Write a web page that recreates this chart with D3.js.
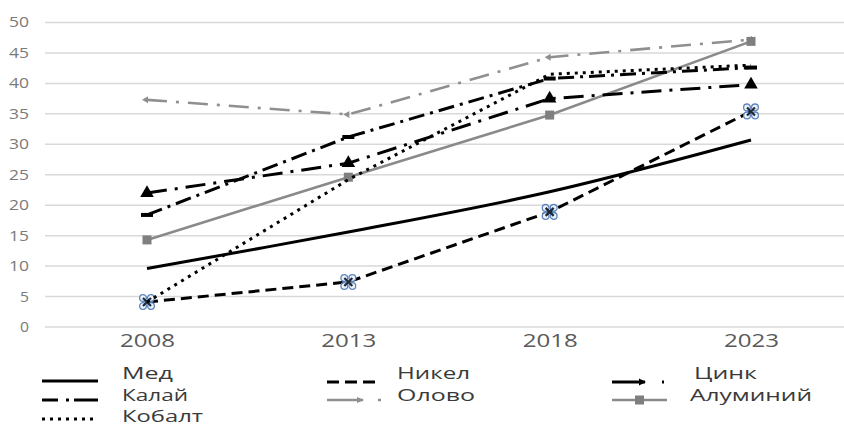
<!DOCTYPE html>
<html><head><meta charset="utf-8">
<script src="https://cdn.jsdelivr.net/npm/d3@7"></script>
<style>
html,body{margin:0;padding:0;background:#fff;}
svg{display:block;font-family:"Open Sans",sans-serif;}
</style></head>
<body><svg id="c" width="844" height="426"></svg>
<script>
const years = ["2008", "2013", "2018", "2023"];
const med = [9.6, 15.6, 22.2, 30.7];
const nikel = [4.1, 7.4, 18.9, 35.4];
const tsink = [22.0, 26.9, 37.5, 39.8];
const kalai = [18.4, 31.2, 40.8, 42.6];
const olovo = [37.3, 34.9, 44.3, 47.2];
const aluminii = [14.3, 24.6, 34.8, 46.9];
const kobalt = [4.1, 24.2, 41.5, 43.0];
const yTicks = [0, 5, 10, 15, 20, 25, 30, 35, 40, 45, 50];
const seriesNames = ["Мед", "Никел", "Цинк", "Калай", "Олово", "Алуминий", "Кобалт"];

const svg = d3.select("#c");
const x = d3.scalePoint().domain(years).range([147, 751]);
const y = d3.scaleLinear().domain([0, 50]).range([327, 22.5]);

// gridlines
svg.append("g").selectAll("line").data(yTicks).join("line")
  .attr("x1", 45).attr("x2", 844)
  .attr("y1", d => y(d)).attr("y2", d => y(d))
  .attr("stroke", "#d9d9d9").attr("stroke-width", 1.5);

// y axis labels
const yAxis = d3.axisLeft(y).tickValues(yTicks).tickSize(0).tickPadding(0);
const gy = svg.append("g").attr("transform", "translate(29,0)").call(yAxis);
gy.select(".domain").remove();
gy.selectAll("text").attr("font-size", 14).attr("fill", "#7a7a7a")
  .attr("font-family", "Open Sans")
  .attr("textLength", d => d >= 10 ? 20 : 9).attr("lengthAdjust", "spacingAndGlyphs");

// x axis labels
const xAxis = d3.axisBottom(x).tickSize(0).tickPadding(0);
const gx = svg.append("g").attr("transform", "translate(0,329)").call(xAxis);
gx.select(".domain").remove();
gx.selectAll("text").attr("font-size", 18).attr("fill", "#595959")
  .attr("font-family", "Open Sans").attr("dy", "1.0em")
  .attr("textLength", 55).attr("lengthAdjust", "spacingAndGlyphs");

const series = [
  {name: "Олово", vals: olovo, color: "#8f8f8f", w: 2.6, dash: "20,9,3,9", curve: d3.curveLinear, marker: "arrow"},
  {name: "Алуминий", vals: aluminii, color: "#8a8a8a", w: 2.6, dash: null, curve: d3.curveLinear, marker: "square"},
  {name: "Мед", vals: med, color: "#000", w: 3, dash: null, curve: d3.curveCatmullRom, marker: null},
  {name: "Никел", vals: nikel, color: "#000", w: 3, dash: "11,6", curve: d3.curveLinear, marker: "x"},
  {name: "Кобалт", vals: kobalt, color: "#000", w: 3, dash: "3,5", curve: d3.curveLinear, marker: null},
  {name: "Калай", vals: kalai, color: "#000", w: 3, dash: "16,6,3,6", curve: d3.curveLinear, marker: "dash"},
  {name: "Цинк", vals: tsink, color: "#000", w: 3, dash: "20,8,3,8", curve: d3.curveLinear, marker: "triangle"}
];

function drawMarker(g, type, cx, cy, color) {
  if (type === "square") {
    g.append("rect").attr("x", cx - 4.5).attr("y", cy - 4.5).attr("width", 9).attr("height", 9).attr("fill", "#7f7f7f");
  } else if (type === "triangle") {
    g.append("path").attr("d", d3.symbol(d3.symbolTriangle, 80)()).attr("transform", `translate(${cx},${cy})`).attr("fill", "#000");
  } else if (type === "dash") {
    g.append("rect").attr("x", cx - 6).attr("y", cy - 2).attr("width", 12).attr("height", 4).attr("fill", "#000");
  } else if (type === "arrow") {
    g.append("path").attr("d", `M${cx-5},${cy} L${cx+1},${cy-3.5} L${cx+1},${cy+3.5} Z`).attr("fill", color);
  } else if (type === "x") {
    const m = g.append("g").attr("transform", `translate(${cx},${cy})`);
    [[-4,-4],[4,-4],[-4,4],[4,4]].forEach(p => {
      m.append("circle").attr("cx", p[0]).attr("cy", p[1]).attr("r", 3.4)
        .attr("fill", "#eef3fa").attr("stroke", "#5f86bd").attr("stroke-width", 1.3);
    });
    m.append("path").attr("d", "M-4,-4L4,4M4,-4L-4,4").attr("stroke", "#1d2a3a").attr("stroke-width", 2.2);
  }
}

const gl = svg.append("g");
series.forEach(s => {
  const line = d3.line().x((d, i) => x(years[i])).y(d => y(d)).curve(s.curve);
  gl.append("path").attr("d", line(s.vals)).attr("fill", "none")
    .attr("stroke", s.color).attr("stroke-width", s.w)
    .attr("stroke-dasharray", s.dash);
  if (s.marker) s.vals.forEach((v, i) => drawMarker(gl, s.marker, x(years[i]), y(v), s.color));
});

// legend
const legend = [
  {name: "Мед", lx: 42, lw: 56, ly: 381, dash: null, tx: 122, ty: 378.5, tl: 51},
  {name: "Никел", lx: 327, lw: 48, ly: 382, dash: "12,6", tx: 397, ty: 378.5, tl: 73},
  {name: "Цинк", lx: 612, lw: 52, ly: 382, dash: "33,17,3,40", tx: 694, ty: 378.5, tl: 63},
  {name: "Калай", lx: 42, lw: 56, ly: 400, dash: "16,8,3,5,24", tx: 122, ty: 400.5, tl: 66},
  {name: "Олово", lx: 327, lw: 54, ly: 400, dash: "36,15,3,40", tx: 397, ty: 400.5, tl: 78},
  {name: "Алуминий", lx: 612, lw: 55, ly: 400, dash: null, tx: 690, ty: 400.5, tl: 122},
  {name: "Кобалт", lx: 42, lw: 56, ly: 419, dash: "3,5", tx: 122, ty: 421.5, tl: 81}
];
const lg = svg.append("g");
legend.forEach(l => {
  const s = series.find(d => d.name === l.name);
  lg.append("line").attr("x1", l.lx).attr("x2", l.lx + l.lw).attr("y1", l.ly).attr("y2", l.ly)
    .attr("stroke", s.color).attr("stroke-width", s.w).attr("stroke-dasharray", l.dash);
  if (s.marker === "square") drawMarker(lg, "square", l.lx + l.lw / 2, l.ly, s.color);
  if (s.marker === "triangle") lg.append("path").attr("d", `M${l.lx+27},${l.ly-3.5}L${l.lx+34},${l.ly}L${l.lx+27},${l.ly+3.5}Z`).attr("fill", "#000");
  if (s.marker === "arrow") lg.append("path").attr("d", `M${l.lx+30},${l.ly-3}L${l.lx+37},${l.ly}L${l.lx+30},${l.ly+3}Z`).attr("fill", s.color);
  lg.append("text").attr("x", l.tx).attr("y", l.ty).text(l.name)
    .attr("font-size", 16).attr("fill", "#3a3a3a").attr("font-family", "Open Sans")
    .attr("textLength", l.tl).attr("lengthAdjust", "spacingAndGlyphs");
});
</script></body></html>
